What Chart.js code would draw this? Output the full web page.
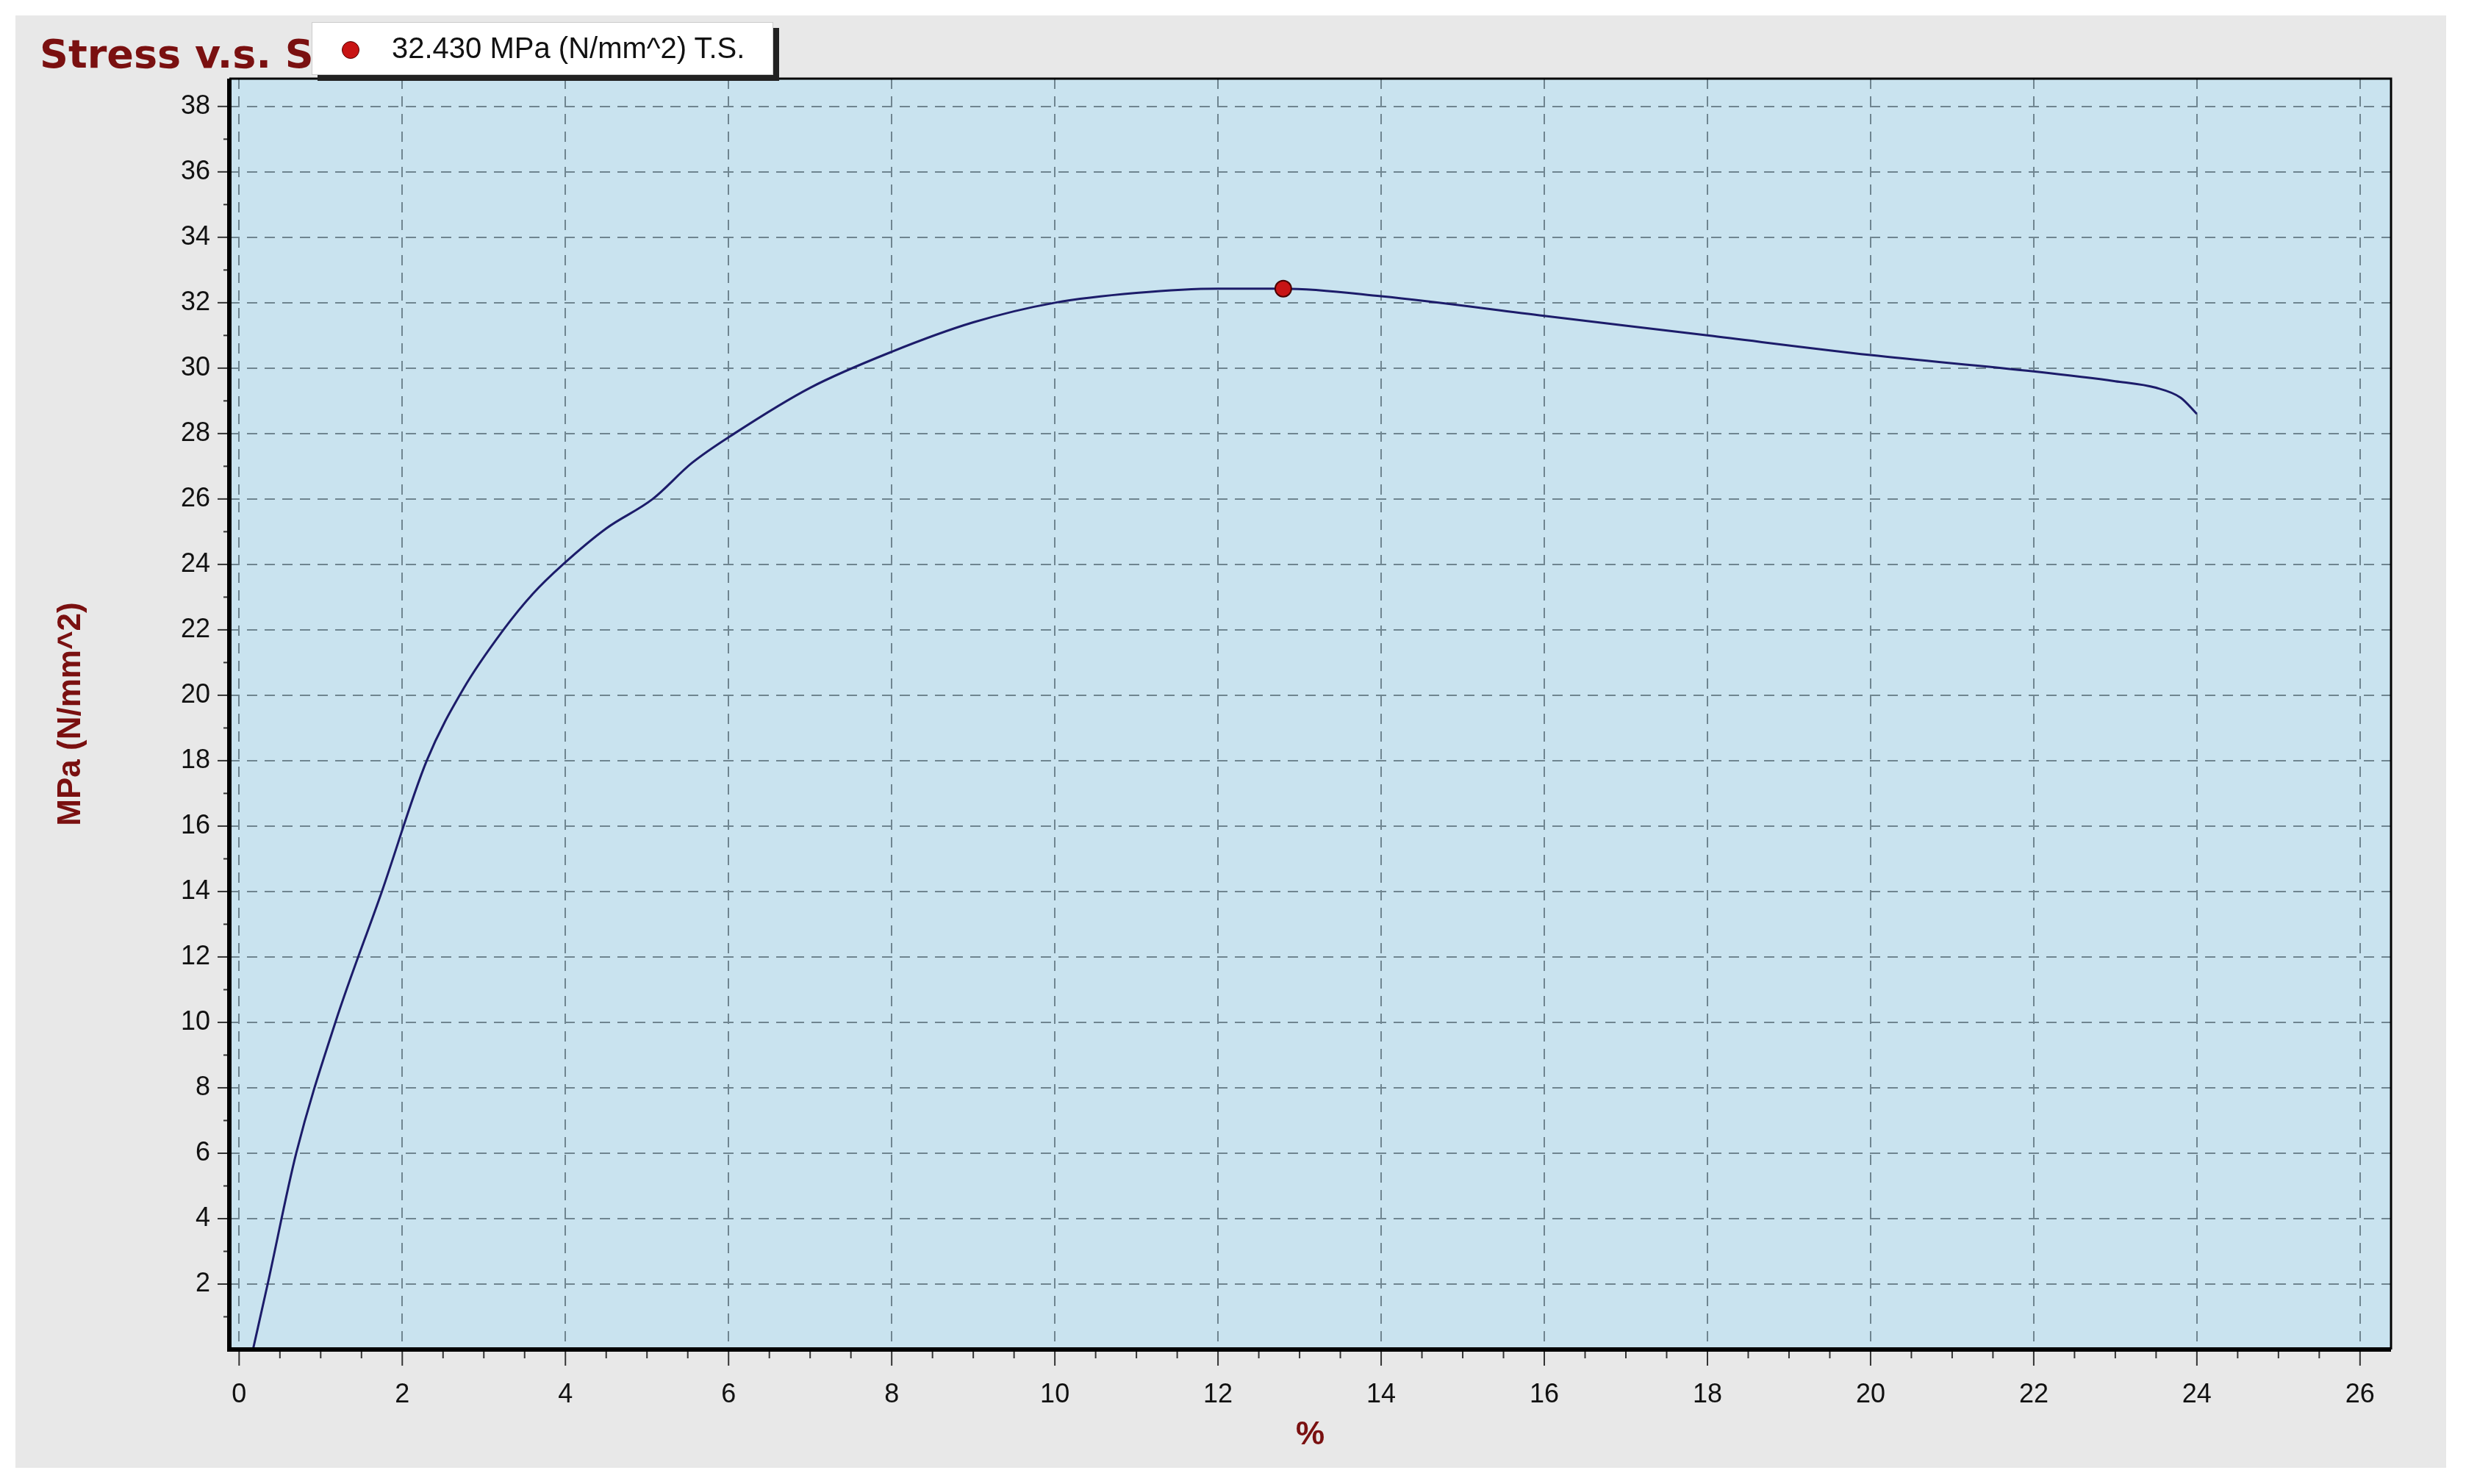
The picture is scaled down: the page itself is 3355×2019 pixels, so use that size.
<!DOCTYPE html>
<html>
<head>
<meta charset="utf-8">
<title>Stress v.s. Strain</title>
<script src="https://cdn.jsdelivr.net/npm/chart.js"></script>
<style>
  html, body { margin: 0; padding: 0; background: #fff; }
  #wrap { position: relative; width: 3355px; height: 2019px; }
  #title { position: absolute; left: 54px; top: 42px; font-family: "Comic Sans MS", "DejaVu Sans", cursive; font-size: 54px; color: #7a1010; font-weight: bold; }
  #box { position: absolute; left: 424px; top: 30px; width: 626px; height: 70px; background: #fff; box-shadow: 8px 8px 0 #222; border: 1px solid #ccc; font-family: "Liberation Sans Narrow", "Liberation Sans", Arial, sans-serif; font-size: 40px; color: #111; }
  #box span.dot { position: absolute; left: 40px; top: 25px; width: 22px; height: 22px; border-radius: 50%; background: #c81414; border: 1px solid #500; }
  #box span.txt { position: absolute; left: 108px; top: 12px; }
</style>
</head>
<body>
<div id="wrap">
  <canvas id="c" width="3355" height="2019"></canvas>
  <div id="title">Stress v.s. Strain</div>
  <div id="box"><span class="dot"></span><span class="txt">32.430 MPa (N/mm^2) T.S.</span></div>
</div>
<script>
// strain (%) and stress (MPa)
const strain = [0.17, 0.35, 0.7, 1.18, 1.75, 2.3, 2.75, 3.24, 3.6, 3.97, 4.5, 5.07, 5.55, 6.07, 7, 8, 9, 10, 11, 12, 12.8, 14, 16, 18, 20, 22, 23, 23.5, 23.8, 24];
const stress = [0, 2, 6, 10, 14, 18, 20.2, 22, 23.1, 24, 25.1, 26, 27.1, 28, 29.4, 30.5, 31.4, 32, 32.3, 32.43, 32.43, 32.2, 31.6, 31, 30.4, 29.9, 29.6, 29.4, 29.1, 28.6];
const peak = { x: 12.8, y: 32.43 };
const xTicks = [0, 2, 4, 6, 8, 10, 12, 14, 16, 18, 20, 22, 24, 26];
const yTicks = [2, 4, 6, 8, 10, 12, 14, 16, 18, 20, 22, 24, 26, 28, 30, 32, 34, 36, 38];

const tickFont = { family: "'Liberation Sans Narrow', 'Liberation Sans', Arial", size: 36 };

const frame = {
  id: 'frame',
  beforeDraw(chart) {
    const c = chart.ctx, a = chart.chartArea;
    c.save();
    c.fillStyle = '#fff';
    c.fillRect(0, 0, chart.width, chart.height);
    c.fillStyle = '#e8e8e8';
    c.fillRect(21, 21, 3307, 1976);
    c.fillStyle = '#c9e3ef';
    c.fillRect(a.left, a.top, a.right - a.left, a.bottom - a.top);
    c.restore();
  },
  afterDatasetsDraw(chart) {
    const c = chart.ctx, a = chart.chartArea;
    const xs = chart.scales.x, ys = chart.scales.y;
    c.save();
    c.strokeStyle = '#333';
    c.lineWidth = 2;
    // minor ticks
    for (let v = 0; v <= 26; v += 0.5) {
      const px = xs.getPixelForValue(v);
      const len = v % 2 === 0 ? 22 : 12;
      c.beginPath(); c.moveTo(px, a.bottom); c.lineTo(px, a.bottom + len); c.stroke();
    }
    for (let v = 1; v <= 38; v += 1) {
      const py = ys.getPixelForValue(v);
      const len = v % 2 === 0 ? 16 : 8;
      c.beginPath(); c.moveTo(a.left, py); c.lineTo(a.left - len, py); c.stroke();
    }
    c.strokeStyle = '#000';
    c.lineWidth = 6;
    c.beginPath(); c.moveTo(a.left, a.top); c.lineTo(a.left, a.bottom); c.lineTo(a.right, a.bottom); c.stroke();
    c.lineWidth = 3;
    c.beginPath(); c.moveTo(a.left, a.top); c.lineTo(a.right, a.top); c.lineTo(a.right, a.bottom); c.stroke();
    c.restore();
  }
};

new Chart(document.getElementById('c'), {
  type: 'scatter',
  data: {
    datasets: [{
      data: strain.map((x, i) => ({ x, y: stress[i] })),
      showLine: true,
      borderColor: '#1c1c6a',
      borderWidth: 3,
      pointRadius: 0,
      cubicInterpolationMode: 'monotone',
      order: 2
    }, {
      data: [peak],
      pointRadius: 11,
      backgroundColor: '#c81414',
      borderColor: '#4a0000',
      borderWidth: 2,
      order: 1
    }]
  },
  plugins: [frame],
  options: {
    responsive: false,
    animation: false,
    layout: { padding: { left: 0, top: 107, right: 102, bottom: 0 } },
    plugins: { legend: { display: false }, tooltip: { enabled: false } },
    scales: {
      x: {
        type: 'linear', min: -0.12, max: 26.38,
        afterBuildTicks: s => { s.ticks = xTicks.map(v => ({ value: v })); },
        afterFit: s => { s.height = 183; },
        grid: { color: '#6f8590', lineWidth: 2, tickLength: 0, drawTicks: false },
        border: { display: false, dash: [14, 10] },
        ticks: { color: '#111', font: tickFont, padding: 40, maxRotation: 0 },
        title: { display: true, text: '%', color: '#7a1010', font: { family: 'Liberation Sans', size: 44, weight: 'bold' }, padding: { top: 0, bottom: 40 } }
      },
      y: {
        type: 'linear', min: 0, max: 38.85,
        afterBuildTicks: s => { s.ticks = yTicks.map(v => ({ value: v })); },
        afterFit: s => { s.width = 312; },
        grid: { color: '#6f8590', lineWidth: 2, drawTicks: false },
        border: { display: false, dash: [14, 10] },
        ticks: { color: '#111', font: tickFont, padding: 26 },
        title: { display: true, text: 'MPa (N/mm^2)', color: '#7a1010', font: { family: 'Liberation Sans', size: 44, weight: 'bold' }, padding: { top: 70, bottom: 0 } }
      }
    }
  }
});
</script>
</body>
</html>
